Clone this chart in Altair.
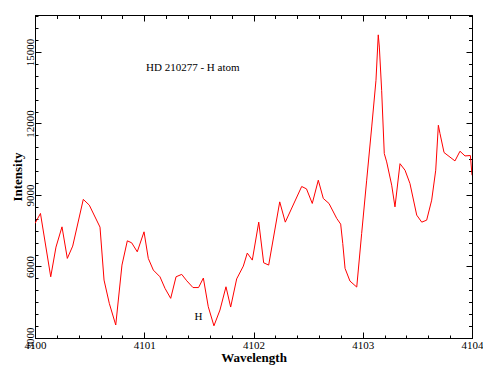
import altair as alt
import pandas as pd

# ---- data ----
wavelength = [4100.000, 4100.050, 4100.144, 4100.192, 4100.247, 4100.296, 4100.345, 4100.442, 4100.497, 4100.595,
              4100.632, 4100.680, 4100.739, 4100.796, 4100.845, 4100.885, 4100.936, 4100.998, 4101.037, 4101.083,
              4101.144, 4101.190, 4101.242, 4101.291, 4101.343, 4101.389, 4101.446, 4101.497, 4101.541, 4101.586,
              4101.638, 4101.693, 4101.748, 4101.791, 4101.846, 4101.907, 4101.943, 4101.989, 4102.048, 4102.093,
              4102.139, 4102.240, 4102.291, 4102.441, 4102.485, 4102.538, 4102.593, 4102.639, 4102.691, 4102.762,
              4102.798, 4102.817, 4102.838, 4102.883, 4102.945, 4102.990, 4103.036, 4103.082, 4103.121, 4103.142,
              4103.152, 4103.173, 4103.197, 4103.219, 4103.265, 4103.295, 4103.341, 4103.387, 4103.432, 4103.494,
              4103.540, 4103.585, 4103.631, 4103.668, 4103.692, 4103.707, 4103.744, 4103.844, 4103.890, 4103.936,
              4103.985, 4104.000]
intensity = [7806, 8225, 5568, 6813, 7663, 6339, 6855, 8816, 8573, 7651,
             5430, 4454, 3545, 6059, 7077, 6993, 6616, 7454, 6339, 5849,
             5568, 5082, 4663, 5568, 5669, 5401, 5116, 5116, 5514, 4311,
             3511, 4173, 5149, 4299, 5480, 6017, 6562, 6268, 7860, 6155,
             6059, 8711, 7860, 9356, 9256, 8644, 9620, 8853, 8644, 8015,
             7777, 6968, 5920, 5388, 5137, 7387, 9620, 11853, 13810, 15717,
             15205, 13391, 10739, 10387, 9411, 8501, 10312, 10039, 9482, 8154,
             7860, 7944, 8782, 10039, 11925, 11577, 10781, 10429, 10835, 10638,
             10655, 9830]

x_major = [4100, 4101, 4102, 4103, 4104]
x_minor = [4100.0, 4100.2, 4100.4, 4100.6, 4100.8, 4101.0, 4101.2, 4101.4, 4101.6, 4101.8,
           4102.0, 4102.2, 4102.4, 4102.6, 4102.8, 4103.0, 4103.2, 4103.4, 4103.6, 4103.8, 4104.0]
y_major = [3000, 6000, 9000, 12000, 15000]
y_minor = [3000, 3500, 4000, 4500, 5000, 5500, 6000, 6500, 7000, 7500, 8000, 8500, 9000, 9500,
           10000, 10500, 11000, 11500, 12000, 12500, 13000, 13500, 14000, 14500, 15000, 15500, 16000, 16500]

title_text = ["HD 210277 - H atom"]
marker_text = ["H"]

df = pd.DataFrame({"wavelength": wavelength, "intensity": intensity})

FONT = "Liberation Serif"
W, H = 437, 323
xscale = alt.Scale(domain=[4100, 4104], nice=False, zero=False)
yscale = alt.Scale(domain=[3000, 16550], nice=False, zero=False)


def tick_axis(orient, values, size):
    return alt.Axis(orient=orient, values=values, labels=False, domain=False, grid=False,
                    ticks=True, tickSize=size, offset=-size, tickColor="black", tickWidth=1,
                    title="")


def axis_layer(xaxis, yaxis):
    return alt.Chart(df).mark_line(strokeOpacity=0).encode(
        x=alt.X("wavelength:Q", scale=xscale, axis=xaxis),
        y=alt.Y("intensity:Q", scale=yscale, axis=yaxis),
    )


main_x = alt.Axis(orient="bottom", values=x_major, format="d", ticks=False, tickSize=0,
                  domain=False, grid=False, labelFont=FONT, labelFontSize=11, labelColor="black",
                  labelPadding=1, labelFlush=False, labelOverlap=False,
                  title="Wavelength", titleFont=FONT, titleFontSize=13, titleFontWeight="bold",
                  titleColor="black", titleX=W / 2, titleY=23, titleBaseline="alphabetic",
                  titleAlign="center")
main_y = alt.Axis(orient="left", values=y_major, format="d", ticks=False, tickSize=0,
                  domain=False, grid=False, labelFont=FONT, labelFontSize=11, labelColor="black",
                  labelAngle=270, labelAlign="center", labelBaseline="bottom", labelPadding=0,
                  labelFlush=False, labelOverlap=False,
                  title="Intensity", titleFont=FONT, titleFontSize=13, titleFontWeight="bold",
                  titleColor="black", titleAngle=270, titleX=-14, titleY=H / 2,
                  titleBaseline="alphabetic", titleAlign="center")

line = alt.Chart(df).mark_line(color="#ff0000", strokeWidth=1, clip=True).encode(
    x=alt.X("wavelength:Q", scale=xscale, axis=main_x),
    y=alt.Y("intensity:Q", scale=yscale, axis=main_y),
)

l_major = axis_layer(tick_axis("bottom", x_major, 6), tick_axis("left", y_major, 6))
l_minor = axis_layer(tick_axis("bottom", x_minor, 3), tick_axis("left", y_minor, 3))
t_major = axis_layer(tick_axis("top", x_major, 6), tick_axis("right", y_major, 6))
t_minor = axis_layer(tick_axis("top", x_minor, 3.5), tick_axis("right", y_minor, 3.5))

title_mark = alt.Chart(pd.DataFrame({"label": title_text})).mark_text(
    font=FONT, fontSize=11, align="left", baseline="alphabetic", color="black"
).encode(x=alt.value(111), y=alt.value(56), text="label:N")

h_mark = alt.Chart(pd.DataFrame({"label": marker_text})).mark_text(
    font=FONT, fontSize=11, align="center", baseline="alphabetic", color="black"
).encode(x=alt.value(163.5), y=alt.value(305), text="label:N")

chart = alt.layer(
    line, l_major, l_minor, t_major, t_minor, title_mark, h_mark
).resolve_axis(
    x="independent", y="independent"
).properties(
    width=W, height=H,
    autosize=alt.AutoSizeParams(type="none"),
    padding={"left": 35, "top": 15, "right": 11, "bottom": 27},
    background="white",
).configure_view(
    stroke="black", strokeWidth=1
)

chart.save("out.html", embed_options={"renderer": "svg", "actions": False})
